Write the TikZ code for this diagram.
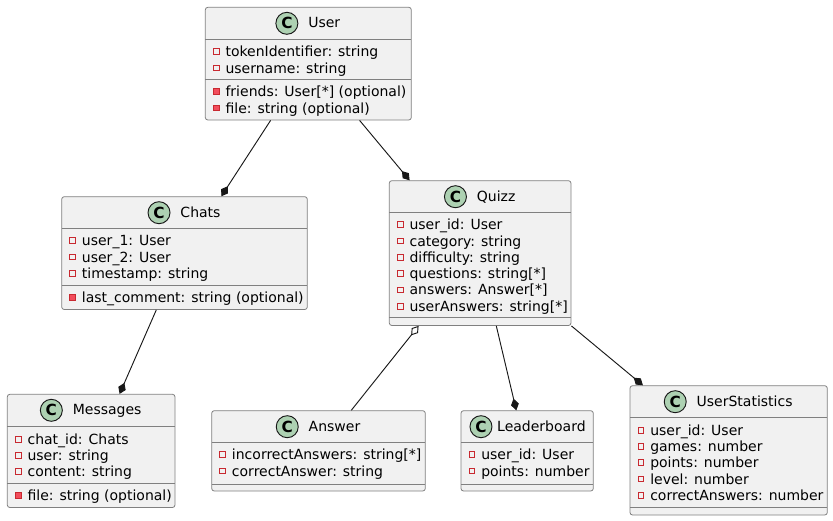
\documentclass[tikz,border=0pt]{standalone}
\usepackage{fontspec}
\setmainfont{DejaVu Sans}
\usetikzlibrary{arrows.meta,fit,calc}
\definecolor{boxfill}{HTML}{F1F1F1}
\definecolor{boxline}{HTML}{181818}
\definecolor{spotfill}{HTML}{ADD1B2}
\definecolor{privline}{HTML}{C82930}
\definecolor{privfill}{HTML}{F24D5C}
\tikzset{
  frame/.style={draw=boxline!55, line width=0.6pt, fill=boxfill, rounded corners=1.9pt, inner sep=0pt},
  sepline/.style={draw=boxline!55, line width=0.6pt},
  titletext/.style={inner sep=0pt, anchor=base, font=\fontsize{10.5pt}{12pt}\selectfont},
  rowtext/.style={inner sep=0pt, anchor=base west, font=\fontsize{10.5pt}{12pt}\selectfont},
  fld/.style={rectangle, draw=privline, line width=0.7pt, minimum size=4.3pt, inner sep=0pt},
  mth/.style={fld, fill=privfill},
  spot/.style={circle, fill=spotfill, draw=boxline, line width=0.7pt, minimum size=16.5pt, inner sep=0pt, font=\bfseries\fontsize{11.5pt}{12pt}\selectfont},
  assoc/.style={draw=boxline, line width=0.7pt},
  comp/.style={assoc, -{Diamond[length=9pt,width=6pt]}},
  aggr/.style={assoc, {Diamond[length=9pt,width=6pt,fill=white]}-},
}
% #1 name, #2 left, #3 top, #4 right, #5 bottom, #6 sep1, #7 sep2, #8 title, #9 icon distance
\newcommand\umlclass[9]{%
  \node[frame, fit={(#2,#3) (#4,#5)}] (#1) {};
  \draw[sepline] (#2,#6) -- (#4,#6);
  \draw[sepline] (#2,#7) -- (#4,#7);
  \node[titletext] (#1-t) at ({(#2+#4)/2+\titleoff},{#3+20.5}) {#8};
  \node[spot] (#1-c) at ($(#1-t.base west)+(-#9,-4.5)$) {C};
}
% #1 name, #2 left, #3 baseline, #4 style, #5 text
\newcommand\urow[5]{%
  \node[rowtext] (#1) at ({#2+20},#3) {#5};
  \node[#4] (#1-i) at ({#2+11},{#3-5}) {};
}
\def\titleoff{16}
\begin{document}
\begin{tikzpicture}[x=0.75pt,y=-0.75pt]
\useasboundingbox (0,0) rectangle (833,521);

% User
\umlclass{user}{205.3}{7.3}{411.3}{120}{39.3}{79.3}{User}{21.2}
\urow{u1}{205.3}{56.7}{fld}{tokenIdentifier: string}
\urow{u2}{205.3}{73.0}{fld}{username: string}
\urow{u3}{205.3}{96.7}{mth}{friends: User[*] (optional)}
\urow{u4}{205.3}{113.0}{mth}{file: string (optional)}

% Chats
\umlclass{chats}{61.7}{196.7}{307.3}{309.5}{228.3}{285}{Chats}{21.2}
\urow{c1}{61.7}{245.7}{fld}{user\_1: User}
\urow{c2}{61.7}{262.0}{fld}{user\_2: User}
\urow{c3}{61.7}{278.3}{fld}{timestamp: string}
\urow{c4}{61.7}{302.4}{mth}{last\_comment: string (optional)}

% Quizz
\umlclass{quizz}{389.3}{180.7}{571}{325.5}{212.3}{317.5}{Quizz}{21.2}
\urow{q1}{389.3}{229.7}{fld}{user\_id: User}
\urow{q2}{389.3}{246.0}{fld}{category: string}
\urow{q3}{389.3}{262.3}{fld}{difficulty: string}
\urow{q4}{389.3}{278.6}{fld}{questions: string[*]}
\urow{q5}{389.3}{294.9}{fld}{answers: Answer[*]}
\urow{q6}{389.3}{311.2}{fld}{userAnswers: string[*]}

% Messages
\umlclass{messages}{7.3}{394.3}{175}{507.5}{426.7}{483.3}{Messages}{21.2}
\urow{m1}{7.3}{444.1}{fld}{chat\_id: Chats}
\urow{m2}{7.3}{460.4}{fld}{user: string}
\urow{m3}{7.3}{476.7}{fld}{content: string}
\urow{m4}{7.3}{500.7}{mth}{file: string (optional)}

% Answer
\umlclass{answer}{211.7}{410.7}{425.3}{491}{442.3}{484}{Answer}{21.2}
\urow{a1}{211.7}{459.7}{fld}{incorrectAnswers: string[*]}
\urow{a2}{211.7}{476.0}{fld}{correctAnswer: string}

% Leaderboard
\def\titleoff{14.3}
\umlclass{leader}{461}{410.7}{593.3}{491}{442.3}{484}{Leaderboard}{16}
\def\titleoff{16}
\urow{l1}{461}{459.7}{fld}{user\_id: User}
\urow{l2}{461}{476.0}{fld}{points: number}

% UserStatistics
\umlclass{stats}{630}{385.7}{827.3}{515}{417.7}{507.3}{UserStatistics}{21.2}
\urow{s1}{630}{435.1}{fld}{user\_id: User}
\urow{s2}{630}{451.4}{fld}{games: number}
\urow{s3}{630}{467.7}{fld}{points: number}
\urow{s4}{630}{484.0}{fld}{level: number}
\urow{s5}{630}{500.3}{fld}{correctAnswers: number}

% connectors
\draw[comp] ($(user.south west)+(65.7,0)$) -- ($(chats.north west)+(160,0)$);
\draw[comp] ($(user.south west)+(154.7,0)$) -- ($(quizz.north west)+(20.7,0)$);
\draw[comp] ($(chats.south west)+(95,0)$) -- ($(messages.north west)+(112.7,0)$);
\draw[aggr] ($(quizz.south west)+(29.7,0)$) -- ($(answer.north west)+(140,0)$);
\draw[comp] ($(quizz.south west)+(107.4,0)$) -- ($(leader.north west)+(55.7,0)$);
\draw[comp] (quizz.south east) -- ($(stats.north west)+(13.3,0)$);
\end{tikzpicture}
\end{document}
